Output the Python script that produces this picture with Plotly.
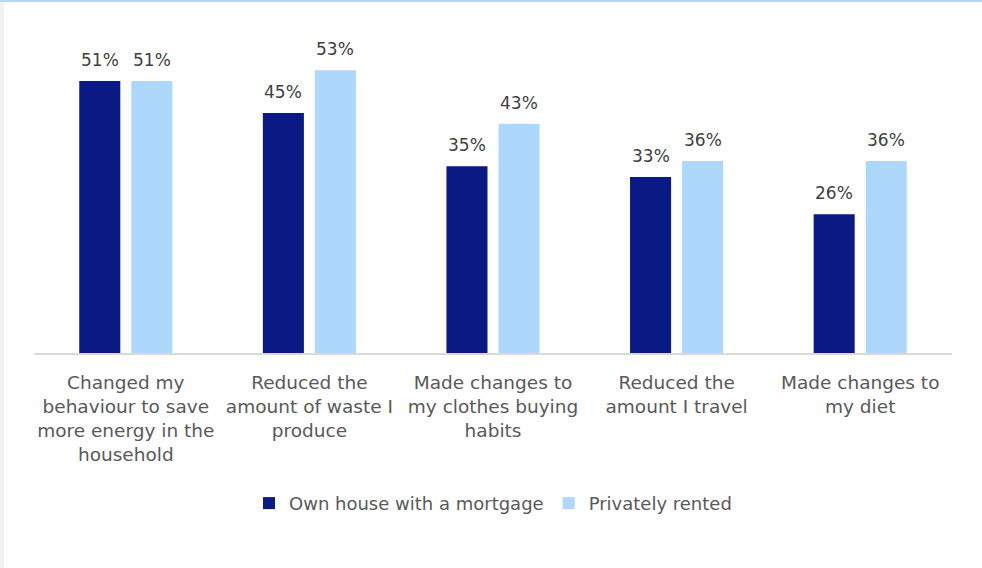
import plotly.graph_objects as go

categories = [
    "Changed my<br>behaviour to save<br>more energy in the<br>household",
    "Reduced the<br>amount of waste I<br>produce",
    "Made changes to<br>my clothes buying<br>habits",
    "Reduced the<br>amount I travel",
    "Made changes to<br>my diet",
]
series_names = ["Own house with a mortgage", "Privately rented"]
own_mortgage = [51, 45, 35, 33, 26]
private_rent = [51, 53, 43, 36, 36]

dark_blue = "#0A1A84"
light_blue = "#ADD8FC"
text_grey = "#595959"
label_grey = "#404040"
font_family = "DejaVu Sans"

fig = go.Figure()
fig.add_trace(go.Bar(name=series_names[0], x=categories, y=own_mortgage,
                     marker=dict(color=dark_blue, line=dict(width=0))))
fig.add_trace(go.Bar(name=series_names[1], x=categories, y=private_rent,
                     marker=dict(color=light_blue, line=dict(width=0))))

# value labels above each bar
for vals, shift in ((own_mortgage, -26), (private_rent, 26)):
    for cat, v in zip(categories, vals):
        fig.add_annotation(x=cat, y=v, text=f"{v}%", showarrow=False,
                           xshift=shift, yshift=9, yanchor="bottom",
                           font=dict(size=17, color=label_grey, family=font_family))

fig.update_layout(
    width=982, height=568,
    margin=dict(l=34, r=30, t=33, b=215),
    paper_bgcolor="white", plot_bgcolor="white",
    barmode="group", bargap=0.433, bargroupgap=0.2115,
    font=dict(family=font_family, color=text_grey, size=18),
    showlegend=True,
    legend=dict(orientation="h", x=0.5, xanchor="center", y=-0.47, yanchor="middle",
                font=dict(size=18, color=text_grey, family=font_family),
                itemwidth=30, traceorder="normal"),
    xaxis=dict(showline=True, linecolor="#D9D9D9", linewidth=2, ticks="",
               tickfont=dict(size=18.5, color=text_grey, family=font_family),
               ticklabelstandoff=12, showgrid=False, zeroline=False),
    yaxis=dict(range=[0, 60], visible=False, showgrid=False, zeroline=False),
)

# frame accents: thin top rule and pale left strip
fig.add_shape(type="rect", xref="paper", yref="paper",
              x0=-34/918, x1=(982-34)/918, y0=1 + 31/320, y1=1 + 34/320,
              line=dict(width=0), fillcolor="#ADD8FB", layer="above")
fig.add_shape(type="rect", xref="paper", yref="paper",
              x0=-34/918, x1=-30/918, y0=-215/320, y1=1 + 31/320,
              line=dict(width=0), fillcolor="#F2F2F2", layer="below")

fig.write_html("out.html")
